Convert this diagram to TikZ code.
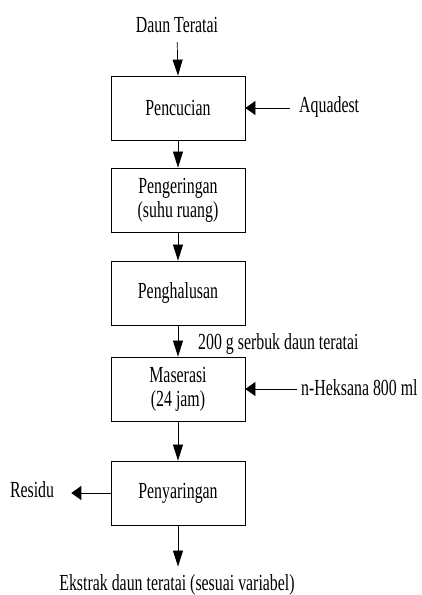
\documentclass[tikz,border=0pt]{standalone}
\usepackage{fontspec}
\setmainfont{Liberation Serif}[FakeStretch=0.69]
\usepackage{tikz}
\usetikzlibrary{arrows.meta}

\tikzset{
	proc/.style={draw, line width=0.8pt, minimum width=134pt, minimum height=64pt, align=center, inner sep=0pt},
	txt/.style={inner sep=0pt},
	vflow/.style={line width=0.7pt, -{Triangle[length=16pt,width=10pt]}},
	hflow/.style={line width=0.7pt, -{Triangle[length=10pt,width=14pt]}}
}

\begin{document}
\begin{tikzpicture}[x=1pt,y=-1pt,font=\fontsize{23}{24}\selectfont]
		\useasboundingbox (0,0) rectangle (422,595);
		\pgfmathsetmacro{\midX}{178}
		
		\node[proc] (b1) at (\midX,108) {Pencucian};
		\node[proc] (b2) at (\midX,200) {Pengeringan\\(suhu ruang)};
		\node[proc] (b3) at (\midX,293) {Penghalusan};
		\node[proc] (b4) at (\midX,389) {Maserasi\\(24 jam)};
		\node[proc] (b5) at (\midX,493) {Penyaringan};
		
		\node[txt,anchor=base] (daun) at (177,32.7) {Daun Teratai};
		\node[txt,anchor=base west] (aqua) at (299,112.7) {Aquadest};
		\node[txt,anchor=base west] (serbuk) at (198,349) {200 g serbuk daun teratai};
		\node[txt,anchor=base west] (heks) at (301,395) {n-Heksana 800 ml};
		\node[txt,anchor=base east] (res) at (54.3,497.7) {Residu};
		\node[txt,anchor=base] (ekstrak) at (177,590.7) {Ekstrak daun teratai (sesuai variabel)};
		
		\draw[vflow,shorten <=9pt] (daun.south) -- (b1.north);
		\foreach \a/\b in {b1/b2,b2/b3,b3/b4,b4/b5} {
			\draw[vflow] (\a.south) -- (\b.north);
		}
		\draw[vflow,shorten >=8pt] (b5.south) -- (b5.south |- ekstrak.north);
		\draw[hflow,shorten <=9pt] (aqua.west |- b1.east) -- (b1.east);
		\draw[hflow,shorten <=4pt] (heks.west |- b4.east) -- (b4.east);
		\draw[hflow,shorten >=17pt] (b5.west) -- (res.east |- b5.west);
	\end{tikzpicture}
\end{document}
